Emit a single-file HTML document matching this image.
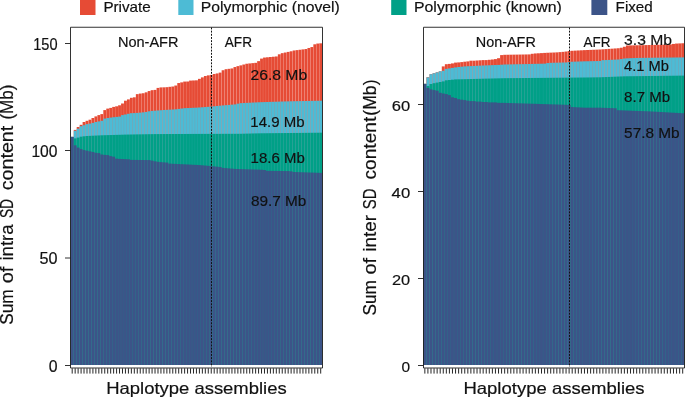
<!DOCTYPE html>
<html lang="en"><head><meta charset="utf-8"><title>SD content per haplotype assembly</title>
<style>
html,body{margin:0;padding:0;background:#fff;}
body{width:685px;height:398px;overflow:hidden;}
svg{display:block;font-family:"Liberation Sans",sans-serif;fill:#111;}
text{stroke:#111;stroke-width:0.18px;}
.ax{stroke:#1c1c1c;stroke-width:0.9;fill:none;}
</style></head><body>
<svg width="685" height="398" viewBox="0 0 685 398">
<rect x="0" y="0" width="685" height="398" fill="#fff" stroke="none"/>
<rect x="80" y="-1" width="15.5" height="16" fill="#E64B35"/>
<rect x="178.3" y="-1" width="15.2" height="16" fill="#4DBBD5"/>
<rect x="391.2" y="-1" width="15.3" height="16" fill="#00A087"/>
<rect x="591.4" y="-1" width="15.9" height="16" fill="#3C5488"/>
<text x="103.4" y="12.4" font-size="14.5" textLength="47.4" lengthAdjust="spacingAndGlyphs" text-anchor="start">Private</text>
<text x="200.8" y="12.4" font-size="14.5" textLength="139.0" lengthAdjust="spacingAndGlyphs" text-anchor="start">Polymorphic (novel)</text>
<text x="414.0" y="12.4" font-size="14.5" textLength="147.9" lengthAdjust="spacingAndGlyphs" text-anchor="start">Polymorphic (known)</text>
<text x="615.6" y="12.4" font-size="14.5" textLength="37.2" lengthAdjust="spacingAndGlyphs" text-anchor="start">Fixed</text>
<g fill="#E64B35">
<rect x="70.78" y="136.90" width="2.84" height="228.10"/>
<rect x="73.74" y="129.90" width="2.84" height="235.10"/>
<rect x="76.70" y="127.00" width="2.84" height="238.00"/>
<rect x="79.66" y="124.80" width="2.84" height="240.20"/>
<rect x="82.61" y="122.00" width="2.84" height="243.00"/>
<rect x="85.57" y="120.80" width="2.84" height="244.20"/>
<rect x="88.53" y="119.70" width="2.84" height="245.30"/>
<rect x="91.49" y="118.00" width="2.84" height="247.00"/>
<rect x="94.45" y="116.40" width="2.84" height="248.60"/>
<rect x="97.41" y="115.10" width="2.84" height="249.90"/>
<rect x="100.36" y="114.10" width="2.84" height="250.90"/>
<rect x="103.32" y="110.10" width="2.84" height="254.90"/>
<rect x="106.28" y="108.60" width="2.84" height="256.40"/>
<rect x="109.24" y="107.90" width="2.84" height="257.10"/>
<rect x="112.20" y="106.90" width="2.84" height="258.10"/>
<rect x="115.16" y="106.30" width="2.84" height="258.70"/>
<rect x="118.11" y="105.30" width="2.84" height="259.70"/>
<rect x="121.07" y="103.50" width="2.84" height="261.50"/>
<rect x="124.03" y="100.70" width="2.84" height="264.30"/>
<rect x="126.99" y="99.40" width="2.84" height="265.60"/>
<rect x="129.95" y="97.80" width="2.84" height="267.20"/>
<rect x="132.91" y="97.30" width="2.84" height="267.70"/>
<rect x="135.86" y="94.14" width="2.84" height="270.86"/>
<rect x="138.82" y="93.58" width="2.84" height="271.42"/>
<rect x="141.78" y="93.24" width="2.84" height="271.76"/>
<rect x="144.74" y="92.33" width="2.84" height="272.67"/>
<rect x="147.70" y="91.06" width="2.84" height="273.94"/>
<rect x="150.66" y="90.18" width="2.84" height="274.82"/>
<rect x="153.61" y="89.90" width="2.84" height="275.10"/>
<rect x="156.57" y="87.91" width="2.84" height="277.09"/>
<rect x="159.53" y="87.41" width="2.84" height="277.59"/>
<rect x="162.49" y="87.34" width="2.84" height="277.66"/>
<rect x="165.45" y="87.18" width="2.84" height="277.82"/>
<rect x="168.41" y="86.82" width="2.84" height="278.18"/>
<rect x="171.36" y="86.52" width="2.84" height="278.48"/>
<rect x="174.32" y="85.53" width="2.84" height="279.47"/>
<rect x="177.28" y="83.06" width="2.84" height="281.94"/>
<rect x="180.24" y="82.38" width="2.84" height="282.62"/>
<rect x="183.20" y="81.58" width="2.84" height="283.42"/>
<rect x="186.16" y="81.51" width="2.84" height="283.49"/>
<rect x="189.11" y="80.58" width="2.84" height="284.42"/>
<rect x="192.07" y="80.45" width="2.84" height="284.55"/>
<rect x="195.03" y="80.32" width="2.84" height="284.68"/>
<rect x="197.99" y="78.85" width="2.84" height="286.15"/>
<rect x="200.95" y="77.37" width="2.84" height="287.63"/>
<rect x="203.91" y="76.02" width="2.84" height="288.98"/>
<rect x="206.86" y="75.36" width="2.84" height="289.64"/>
<rect x="209.82" y="74.90" width="2.84" height="290.10"/>
<rect x="212.78" y="73.98" width="2.84" height="291.02"/>
<rect x="215.74" y="73.45" width="2.84" height="291.55"/>
<rect x="218.70" y="72.61" width="2.84" height="292.39"/>
<rect x="221.66" y="70.24" width="2.84" height="294.76"/>
<rect x="224.61" y="69.20" width="2.84" height="295.80"/>
<rect x="227.57" y="68.82" width="2.84" height="296.18"/>
<rect x="230.53" y="68.44" width="2.84" height="296.56"/>
<rect x="233.49" y="67.06" width="2.84" height="297.94"/>
<rect x="236.45" y="66.14" width="2.84" height="298.86"/>
<rect x="239.41" y="65.37" width="2.84" height="299.63"/>
<rect x="242.36" y="64.52" width="2.84" height="300.48"/>
<rect x="245.32" y="63.73" width="2.84" height="301.27"/>
<rect x="248.28" y="63.43" width="2.84" height="301.57"/>
<rect x="251.24" y="63.13" width="2.84" height="301.87"/>
<rect x="254.20" y="62.84" width="2.84" height="302.16"/>
<rect x="257.16" y="61.14" width="2.84" height="303.87"/>
<rect x="260.11" y="58.59" width="2.84" height="306.41"/>
<rect x="263.07" y="57.55" width="2.84" height="307.45"/>
<rect x="266.03" y="57.28" width="2.84" height="307.72"/>
<rect x="268.99" y="57.01" width="2.84" height="307.99"/>
<rect x="271.95" y="56.74" width="2.84" height="308.26"/>
<rect x="274.91" y="56.46" width="2.84" height="308.54"/>
<rect x="277.86" y="54.30" width="2.84" height="310.70"/>
<rect x="280.82" y="53.15" width="2.84" height="311.85"/>
<rect x="283.78" y="52.53" width="2.84" height="312.47"/>
<rect x="286.74" y="51.91" width="2.84" height="313.09"/>
<rect x="289.70" y="51.29" width="2.84" height="313.71"/>
<rect x="292.66" y="50.49" width="2.84" height="314.51"/>
<rect x="295.61" y="50.13" width="2.84" height="314.87"/>
<rect x="298.57" y="49.76" width="2.84" height="315.24"/>
<rect x="301.53" y="49.40" width="2.84" height="315.60"/>
<rect x="304.49" y="49.03" width="2.84" height="315.97"/>
<rect x="307.45" y="47.97" width="2.84" height="317.03"/>
<rect x="310.41" y="47.05" width="2.84" height="317.95"/>
<rect x="313.36" y="44.31" width="2.84" height="320.69"/>
<rect x="316.32" y="43.55" width="2.84" height="321.45"/>
<rect x="319.28" y="43.32" width="2.84" height="321.68"/>
</g>
<g fill="#4DBBD5">
<rect x="70.78" y="136.90" width="2.84" height="228.10"/>
<rect x="73.74" y="130.80" width="2.84" height="234.20"/>
<rect x="76.70" y="128.70" width="2.84" height="236.30"/>
<rect x="79.66" y="126.20" width="2.84" height="238.80"/>
<rect x="82.61" y="125.20" width="2.84" height="239.80"/>
<rect x="85.57" y="124.10" width="2.84" height="240.90"/>
<rect x="88.53" y="123.60" width="2.84" height="241.40"/>
<rect x="91.49" y="122.90" width="2.84" height="242.10"/>
<rect x="94.45" y="122.00" width="2.84" height="243.00"/>
<rect x="97.41" y="121.40" width="2.84" height="243.60"/>
<rect x="100.36" y="120.80" width="2.84" height="244.20"/>
<rect x="103.32" y="118.60" width="2.84" height="246.40"/>
<rect x="106.28" y="118.00" width="2.84" height="247.00"/>
<rect x="109.24" y="117.60" width="2.84" height="247.40"/>
<rect x="112.20" y="117.20" width="2.84" height="247.80"/>
<rect x="115.16" y="116.90" width="2.84" height="248.10"/>
<rect x="118.11" y="116.60" width="2.84" height="248.40"/>
<rect x="121.07" y="115.10" width="2.84" height="249.90"/>
<rect x="124.03" y="114.50" width="2.84" height="250.50"/>
<rect x="126.99" y="113.80" width="2.84" height="251.20"/>
<rect x="129.95" y="113.20" width="2.84" height="251.80"/>
<rect x="132.91" y="113.07" width="2.84" height="251.93"/>
<rect x="135.86" y="112.89" width="2.84" height="252.11"/>
<rect x="138.82" y="112.62" width="2.84" height="252.38"/>
<rect x="141.78" y="112.36" width="2.84" height="252.64"/>
<rect x="144.74" y="111.95" width="2.84" height="253.05"/>
<rect x="147.70" y="111.29" width="2.84" height="253.71"/>
<rect x="150.66" y="110.93" width="2.84" height="254.07"/>
<rect x="153.61" y="110.70" width="2.84" height="254.30"/>
<rect x="156.57" y="110.46" width="2.84" height="254.54"/>
<rect x="159.53" y="110.22" width="2.84" height="254.78"/>
<rect x="162.49" y="110.02" width="2.84" height="254.98"/>
<rect x="165.45" y="109.86" width="2.84" height="255.14"/>
<rect x="168.41" y="109.69" width="2.84" height="255.31"/>
<rect x="171.36" y="109.52" width="2.84" height="255.48"/>
<rect x="174.32" y="109.30" width="2.84" height="255.70"/>
<rect x="177.28" y="108.91" width="2.84" height="256.09"/>
<rect x="180.24" y="108.51" width="2.84" height="256.49"/>
<rect x="183.20" y="108.17" width="2.84" height="256.83"/>
<rect x="186.16" y="108.05" width="2.84" height="256.95"/>
<rect x="189.11" y="107.92" width="2.84" height="257.08"/>
<rect x="192.07" y="107.79" width="2.84" height="257.21"/>
<rect x="195.03" y="107.67" width="2.84" height="257.33"/>
<rect x="197.99" y="107.49" width="2.84" height="257.51"/>
<rect x="200.95" y="107.27" width="2.84" height="257.73"/>
<rect x="203.91" y="107.05" width="2.84" height="257.95"/>
<rect x="206.86" y="106.83" width="2.84" height="258.17"/>
<rect x="209.82" y="106.58" width="2.84" height="258.42"/>
<rect x="212.78" y="106.28" width="2.84" height="258.72"/>
<rect x="215.74" y="105.98" width="2.84" height="259.02"/>
<rect x="218.70" y="105.69" width="2.84" height="259.31"/>
<rect x="221.66" y="105.43" width="2.84" height="259.57"/>
<rect x="224.61" y="105.18" width="2.84" height="259.82"/>
<rect x="227.57" y="104.92" width="2.84" height="260.08"/>
<rect x="230.53" y="104.66" width="2.84" height="260.34"/>
<rect x="233.49" y="104.41" width="2.84" height="260.59"/>
<rect x="236.45" y="103.71" width="2.84" height="261.29"/>
<rect x="239.41" y="103.16" width="2.84" height="261.84"/>
<rect x="242.36" y="103.01" width="2.84" height="261.99"/>
<rect x="245.32" y="102.86" width="2.84" height="262.14"/>
<rect x="248.28" y="102.72" width="2.84" height="262.28"/>
<rect x="251.24" y="102.57" width="2.84" height="262.43"/>
<rect x="254.20" y="102.42" width="2.84" height="262.58"/>
<rect x="257.16" y="102.27" width="2.84" height="262.73"/>
<rect x="260.11" y="102.15" width="2.84" height="262.85"/>
<rect x="263.07" y="102.07" width="2.84" height="262.93"/>
<rect x="266.03" y="101.98" width="2.84" height="263.02"/>
<rect x="268.99" y="101.89" width="2.84" height="263.11"/>
<rect x="271.95" y="101.80" width="2.84" height="263.20"/>
<rect x="274.91" y="101.71" width="2.84" height="263.29"/>
<rect x="277.86" y="101.62" width="2.84" height="263.38"/>
<rect x="280.82" y="101.53" width="2.84" height="263.47"/>
<rect x="283.78" y="101.44" width="2.84" height="263.56"/>
<rect x="286.74" y="101.36" width="2.84" height="263.64"/>
<rect x="289.70" y="101.28" width="2.84" height="263.72"/>
<rect x="292.66" y="101.22" width="2.84" height="263.78"/>
<rect x="295.61" y="101.16" width="2.84" height="263.84"/>
<rect x="298.57" y="101.11" width="2.84" height="263.89"/>
<rect x="301.53" y="101.05" width="2.84" height="263.95"/>
<rect x="304.49" y="100.99" width="2.84" height="264.01"/>
<rect x="307.45" y="100.93" width="2.84" height="264.07"/>
<rect x="310.41" y="100.88" width="2.84" height="264.12"/>
<rect x="313.36" y="100.82" width="2.84" height="264.18"/>
<rect x="316.32" y="100.76" width="2.84" height="264.24"/>
<rect x="319.28" y="100.71" width="2.84" height="264.29"/>
</g>
<g fill="#00A087">
<rect x="70.78" y="136.90" width="2.84" height="228.10"/>
<rect x="73.74" y="138.40" width="2.84" height="226.60"/>
<rect x="76.70" y="137.60" width="2.84" height="227.40"/>
<rect x="79.66" y="136.70" width="2.84" height="228.30"/>
<rect x="82.61" y="136.30" width="2.84" height="228.70"/>
<rect x="85.57" y="136.00" width="2.84" height="229.00"/>
<rect x="88.53" y="135.86" width="2.84" height="229.14"/>
<rect x="91.49" y="135.72" width="2.84" height="229.28"/>
<rect x="94.45" y="135.58" width="2.84" height="229.42"/>
<rect x="97.41" y="135.44" width="2.84" height="229.56"/>
<rect x="100.36" y="135.30" width="2.84" height="229.70"/>
<rect x="103.32" y="135.21" width="2.84" height="229.79"/>
<rect x="106.28" y="135.12" width="2.84" height="229.88"/>
<rect x="109.24" y="135.04" width="2.84" height="229.96"/>
<rect x="112.20" y="134.95" width="2.84" height="230.05"/>
<rect x="115.16" y="134.86" width="2.84" height="230.14"/>
<rect x="118.11" y="134.78" width="2.84" height="230.22"/>
<rect x="121.07" y="134.69" width="2.84" height="230.31"/>
<rect x="124.03" y="134.60" width="2.84" height="230.40"/>
<rect x="126.99" y="134.55" width="2.84" height="230.45"/>
<rect x="129.95" y="134.50" width="2.84" height="230.50"/>
<rect x="132.91" y="134.45" width="2.84" height="230.55"/>
<rect x="135.86" y="134.40" width="2.84" height="230.60"/>
<rect x="138.82" y="134.35" width="2.84" height="230.65"/>
<rect x="141.78" y="134.30" width="2.84" height="230.70"/>
<rect x="144.74" y="134.25" width="2.84" height="230.75"/>
<rect x="147.70" y="134.20" width="2.84" height="230.80"/>
<rect x="150.66" y="134.15" width="2.84" height="230.85"/>
<rect x="153.61" y="134.10" width="2.84" height="230.90"/>
<rect x="156.57" y="134.09" width="2.84" height="230.91"/>
<rect x="159.53" y="134.07" width="2.84" height="230.93"/>
<rect x="162.49" y="134.06" width="2.84" height="230.94"/>
<rect x="165.45" y="134.05" width="2.84" height="230.95"/>
<rect x="168.41" y="134.03" width="2.84" height="230.97"/>
<rect x="171.36" y="134.02" width="2.84" height="230.98"/>
<rect x="174.32" y="134.01" width="2.84" height="230.99"/>
<rect x="177.28" y="133.99" width="2.84" height="231.01"/>
<rect x="180.24" y="133.98" width="2.84" height="231.02"/>
<rect x="183.20" y="133.97" width="2.84" height="231.03"/>
<rect x="186.16" y="133.96" width="2.84" height="231.04"/>
<rect x="189.11" y="133.94" width="2.84" height="231.06"/>
<rect x="192.07" y="133.93" width="2.84" height="231.07"/>
<rect x="195.03" y="133.92" width="2.84" height="231.08"/>
<rect x="197.99" y="133.90" width="2.84" height="231.10"/>
<rect x="200.95" y="133.89" width="2.84" height="231.11"/>
<rect x="203.91" y="133.89" width="2.84" height="231.11"/>
<rect x="206.86" y="133.88" width="2.84" height="231.12"/>
<rect x="209.82" y="133.87" width="2.84" height="231.13"/>
<rect x="212.78" y="133.86" width="2.84" height="231.14"/>
<rect x="215.74" y="133.86" width="2.84" height="231.14"/>
<rect x="218.70" y="133.85" width="2.84" height="231.15"/>
<rect x="221.66" y="133.84" width="2.84" height="231.16"/>
<rect x="224.61" y="133.83" width="2.84" height="231.17"/>
<rect x="227.57" y="133.83" width="2.84" height="231.17"/>
<rect x="230.53" y="133.82" width="2.84" height="231.18"/>
<rect x="233.49" y="133.81" width="2.84" height="231.19"/>
<rect x="236.45" y="133.81" width="2.84" height="231.19"/>
<rect x="239.41" y="133.78" width="2.84" height="231.22"/>
<rect x="242.36" y="133.71" width="2.84" height="231.29"/>
<rect x="245.32" y="133.63" width="2.84" height="231.37"/>
<rect x="248.28" y="133.56" width="2.84" height="231.44"/>
<rect x="251.24" y="133.48" width="2.84" height="231.52"/>
<rect x="254.20" y="133.41" width="2.84" height="231.59"/>
<rect x="257.16" y="133.34" width="2.84" height="231.66"/>
<rect x="260.11" y="133.28" width="2.84" height="231.72"/>
<rect x="263.07" y="133.26" width="2.84" height="231.74"/>
<rect x="266.03" y="133.23" width="2.84" height="231.77"/>
<rect x="268.99" y="133.20" width="2.84" height="231.80"/>
<rect x="271.95" y="133.17" width="2.84" height="231.83"/>
<rect x="274.91" y="133.14" width="2.84" height="231.86"/>
<rect x="277.86" y="133.11" width="2.84" height="231.89"/>
<rect x="280.82" y="133.08" width="2.84" height="231.92"/>
<rect x="283.78" y="133.05" width="2.84" height="231.95"/>
<rect x="286.74" y="133.02" width="2.84" height="231.98"/>
<rect x="289.70" y="132.99" width="2.84" height="232.01"/>
<rect x="292.66" y="132.96" width="2.84" height="232.04"/>
<rect x="295.61" y="132.94" width="2.84" height="232.06"/>
<rect x="298.57" y="132.91" width="2.84" height="232.09"/>
<rect x="301.53" y="132.88" width="2.84" height="232.12"/>
<rect x="304.49" y="132.85" width="2.84" height="232.15"/>
<rect x="307.45" y="132.82" width="2.84" height="232.18"/>
<rect x="310.41" y="132.79" width="2.84" height="232.21"/>
<rect x="313.36" y="132.76" width="2.84" height="232.24"/>
<rect x="316.32" y="132.73" width="2.84" height="232.27"/>
<rect x="319.28" y="132.70" width="2.84" height="232.30"/>
</g>
<g fill="#3C5488">
<rect x="70.78" y="136.90" width="2.84" height="228.10"/>
<rect x="73.74" y="145.30" width="2.84" height="219.70"/>
<rect x="76.70" y="147.60" width="2.84" height="217.40"/>
<rect x="79.66" y="149.10" width="2.84" height="215.90"/>
<rect x="82.61" y="150.10" width="2.84" height="214.90"/>
<rect x="85.57" y="150.70" width="2.84" height="214.30"/>
<rect x="88.53" y="151.30" width="2.84" height="213.70"/>
<rect x="91.49" y="152.00" width="2.84" height="213.00"/>
<rect x="94.45" y="152.80" width="2.84" height="212.20"/>
<rect x="97.41" y="153.10" width="2.84" height="211.90"/>
<rect x="100.36" y="154.50" width="2.84" height="210.50"/>
<rect x="103.32" y="154.90" width="2.84" height="210.10"/>
<rect x="106.28" y="155.10" width="2.84" height="209.90"/>
<rect x="109.24" y="156.10" width="2.84" height="208.90"/>
<rect x="112.20" y="156.70" width="2.84" height="208.30"/>
<rect x="115.16" y="158.60" width="2.84" height="206.40"/>
<rect x="118.11" y="158.90" width="2.84" height="206.10"/>
<rect x="121.07" y="159.03" width="2.84" height="205.97"/>
<rect x="124.03" y="159.17" width="2.84" height="205.83"/>
<rect x="126.99" y="159.30" width="2.84" height="205.70"/>
<rect x="129.95" y="159.90" width="2.84" height="205.10"/>
<rect x="132.91" y="159.93" width="2.84" height="205.07"/>
<rect x="135.86" y="159.96" width="2.84" height="205.04"/>
<rect x="138.82" y="160.00" width="2.84" height="205.00"/>
<rect x="141.78" y="160.03" width="2.84" height="204.97"/>
<rect x="144.74" y="160.06" width="2.84" height="204.94"/>
<rect x="147.70" y="160.09" width="2.84" height="204.91"/>
<rect x="150.66" y="160.62" width="2.84" height="204.38"/>
<rect x="153.61" y="161.29" width="2.84" height="203.71"/>
<rect x="156.57" y="161.82" width="2.84" height="203.18"/>
<rect x="159.53" y="162.15" width="2.84" height="202.85"/>
<rect x="162.49" y="162.37" width="2.84" height="202.63"/>
<rect x="165.45" y="162.59" width="2.84" height="202.41"/>
<rect x="168.41" y="163.64" width="2.84" height="201.36"/>
<rect x="171.36" y="163.78" width="2.84" height="201.22"/>
<rect x="174.32" y="163.92" width="2.84" height="201.08"/>
<rect x="177.28" y="164.06" width="2.84" height="200.94"/>
<rect x="180.24" y="164.20" width="2.84" height="200.80"/>
<rect x="183.20" y="164.34" width="2.84" height="200.66"/>
<rect x="186.16" y="164.48" width="2.84" height="200.52"/>
<rect x="189.11" y="164.63" width="2.84" height="200.37"/>
<rect x="192.07" y="164.77" width="2.84" height="200.23"/>
<rect x="195.03" y="164.92" width="2.84" height="200.08"/>
<rect x="197.99" y="165.07" width="2.84" height="199.93"/>
<rect x="200.95" y="165.31" width="2.84" height="199.69"/>
<rect x="203.91" y="165.58" width="2.84" height="199.42"/>
<rect x="206.86" y="165.85" width="2.84" height="199.15"/>
<rect x="209.82" y="166.12" width="2.84" height="198.88"/>
<rect x="212.78" y="166.42" width="2.84" height="198.58"/>
<rect x="215.74" y="166.72" width="2.84" height="198.28"/>
<rect x="218.70" y="167.03" width="2.84" height="197.97"/>
<rect x="221.66" y="167.91" width="2.84" height="197.09"/>
<rect x="224.61" y="168.15" width="2.84" height="196.85"/>
<rect x="227.57" y="168.40" width="2.84" height="196.60"/>
<rect x="230.53" y="168.65" width="2.84" height="196.35"/>
<rect x="233.49" y="168.89" width="2.84" height="196.11"/>
<rect x="236.45" y="169.01" width="2.84" height="195.99"/>
<rect x="239.41" y="169.12" width="2.84" height="195.88"/>
<rect x="242.36" y="169.21" width="2.84" height="195.79"/>
<rect x="245.32" y="169.30" width="2.84" height="195.70"/>
<rect x="248.28" y="169.38" width="2.84" height="195.62"/>
<rect x="251.24" y="169.47" width="2.84" height="195.53"/>
<rect x="254.20" y="169.56" width="2.84" height="195.44"/>
<rect x="257.16" y="169.64" width="2.84" height="195.36"/>
<rect x="260.11" y="169.73" width="2.84" height="195.27"/>
<rect x="263.07" y="170.00" width="2.84" height="195.00"/>
<rect x="266.03" y="170.81" width="2.84" height="194.19"/>
<rect x="268.99" y="170.85" width="2.84" height="194.15"/>
<rect x="271.95" y="170.89" width="2.84" height="194.11"/>
<rect x="274.91" y="170.93" width="2.84" height="194.07"/>
<rect x="277.86" y="170.96" width="2.84" height="194.04"/>
<rect x="280.82" y="171.00" width="2.84" height="194.00"/>
<rect x="283.78" y="171.04" width="2.84" height="193.96"/>
<rect x="286.74" y="171.08" width="2.84" height="193.92"/>
<rect x="289.70" y="171.35" width="2.84" height="193.65"/>
<rect x="292.66" y="172.00" width="2.84" height="193.00"/>
<rect x="295.61" y="172.10" width="2.84" height="192.90"/>
<rect x="298.57" y="172.20" width="2.84" height="192.80"/>
<rect x="301.53" y="172.30" width="2.84" height="192.70"/>
<rect x="304.49" y="172.40" width="2.84" height="192.60"/>
<rect x="307.45" y="172.50" width="2.84" height="192.50"/>
<rect x="310.41" y="172.59" width="2.84" height="192.41"/>
<rect x="313.36" y="172.69" width="2.84" height="192.31"/>
<rect x="316.32" y="172.79" width="2.84" height="192.21"/>
<rect x="319.28" y="172.89" width="2.84" height="192.11"/>
</g>
<g fill="#E64B35">
<rect x="423.38" y="83.90" width="2.95" height="281.10"/>
<rect x="426.44" y="77.20" width="2.95" height="287.80"/>
<rect x="429.51" y="74.10" width="2.95" height="290.90"/>
<rect x="432.58" y="73.20" width="2.95" height="291.80"/>
<rect x="435.65" y="72.30" width="2.95" height="292.70"/>
<rect x="438.72" y="71.30" width="2.95" height="293.70"/>
<rect x="441.79" y="66.40" width="2.95" height="298.60"/>
<rect x="444.86" y="64.20" width="2.95" height="300.80"/>
<rect x="447.93" y="63.90" width="2.95" height="301.10"/>
<rect x="451.00" y="63.40" width="2.95" height="301.60"/>
<rect x="454.07" y="62.60" width="2.95" height="302.40"/>
<rect x="457.14" y="62.40" width="2.95" height="302.60"/>
<rect x="460.21" y="62.10" width="2.95" height="302.90"/>
<rect x="463.28" y="61.70" width="2.95" height="303.30"/>
<rect x="466.35" y="61.40" width="2.95" height="303.60"/>
<rect x="469.42" y="60.70" width="2.95" height="304.30"/>
<rect x="472.49" y="60.70" width="2.95" height="304.30"/>
<rect x="475.56" y="60.50" width="2.95" height="304.50"/>
<rect x="478.63" y="60.30" width="2.95" height="304.70"/>
<rect x="481.70" y="60.10" width="2.95" height="304.90"/>
<rect x="484.77" y="60.10" width="2.95" height="304.90"/>
<rect x="487.84" y="59.80" width="2.95" height="305.20"/>
<rect x="490.91" y="59.50" width="2.95" height="305.50"/>
<rect x="493.98" y="59.10" width="2.95" height="305.90"/>
<rect x="497.05" y="58.20" width="2.95" height="306.80"/>
<rect x="500.12" y="55.10" width="2.95" height="309.90"/>
<rect x="503.19" y="54.80" width="2.95" height="310.20"/>
<rect x="506.26" y="54.75" width="2.95" height="310.25"/>
<rect x="509.33" y="54.70" width="2.95" height="310.30"/>
<rect x="512.39" y="54.65" width="2.95" height="310.35"/>
<rect x="515.46" y="54.61" width="2.95" height="310.39"/>
<rect x="518.53" y="54.56" width="2.95" height="310.44"/>
<rect x="521.60" y="54.51" width="2.95" height="310.49"/>
<rect x="524.67" y="54.46" width="2.95" height="310.54"/>
<rect x="527.74" y="54.41" width="2.95" height="310.59"/>
<rect x="530.81" y="53.79" width="2.95" height="311.21"/>
<rect x="533.88" y="53.46" width="2.95" height="311.54"/>
<rect x="536.95" y="53.28" width="2.95" height="311.72"/>
<rect x="540.02" y="53.10" width="2.95" height="311.90"/>
<rect x="543.09" y="52.91" width="2.95" height="312.09"/>
<rect x="546.16" y="52.75" width="2.95" height="312.25"/>
<rect x="549.23" y="52.63" width="2.95" height="312.37"/>
<rect x="552.30" y="52.51" width="2.95" height="312.49"/>
<rect x="555.37" y="52.37" width="2.95" height="312.63"/>
<rect x="558.44" y="52.12" width="2.95" height="312.88"/>
<rect x="561.51" y="51.87" width="2.95" height="313.13"/>
<rect x="564.58" y="51.53" width="2.95" height="313.47"/>
<rect x="567.65" y="51.04" width="2.95" height="313.96"/>
<rect x="570.72" y="50.78" width="2.95" height="314.22"/>
<rect x="573.79" y="50.62" width="2.95" height="314.38"/>
<rect x="576.86" y="50.46" width="2.95" height="314.54"/>
<rect x="579.93" y="50.29" width="2.95" height="314.71"/>
<rect x="583.00" y="50.13" width="2.95" height="314.87"/>
<rect x="586.07" y="50.00" width="2.95" height="315.00"/>
<rect x="589.14" y="49.88" width="2.95" height="315.12"/>
<rect x="592.21" y="49.75" width="2.95" height="315.25"/>
<rect x="595.28" y="49.63" width="2.95" height="315.37"/>
<rect x="598.34" y="49.51" width="2.95" height="315.49"/>
<rect x="601.41" y="49.30" width="2.95" height="315.70"/>
<rect x="604.48" y="49.09" width="2.95" height="315.91"/>
<rect x="607.55" y="48.88" width="2.95" height="316.12"/>
<rect x="610.62" y="48.67" width="2.95" height="316.33"/>
<rect x="613.69" y="48.46" width="2.95" height="316.54"/>
<rect x="616.76" y="48.25" width="2.95" height="316.75"/>
<rect x="619.83" y="47.74" width="2.95" height="317.26"/>
<rect x="622.90" y="46.77" width="2.95" height="318.23"/>
<rect x="625.97" y="45.48" width="2.95" height="319.52"/>
<rect x="629.04" y="45.41" width="2.95" height="319.59"/>
<rect x="632.11" y="45.35" width="2.95" height="319.65"/>
<rect x="635.18" y="45.28" width="2.95" height="319.72"/>
<rect x="638.25" y="45.22" width="2.95" height="319.78"/>
<rect x="641.32" y="45.15" width="2.95" height="319.85"/>
<rect x="644.39" y="45.09" width="2.95" height="319.91"/>
<rect x="647.46" y="45.02" width="2.95" height="319.98"/>
<rect x="650.53" y="44.95" width="2.95" height="320.05"/>
<rect x="653.60" y="44.87" width="2.95" height="320.13"/>
<rect x="656.67" y="44.80" width="2.95" height="320.20"/>
<rect x="659.74" y="44.72" width="2.95" height="320.28"/>
<rect x="662.81" y="44.64" width="2.95" height="320.36"/>
<rect x="665.88" y="44.57" width="2.95" height="320.43"/>
<rect x="668.95" y="44.43" width="2.95" height="320.57"/>
<rect x="672.02" y="43.93" width="2.95" height="321.07"/>
<rect x="675.09" y="43.55" width="2.95" height="321.45"/>
<rect x="678.16" y="43.41" width="2.95" height="321.59"/>
<rect x="681.23" y="43.26" width="2.95" height="321.74"/>
</g>
<g fill="#4DBBD5">
<rect x="423.38" y="83.90" width="2.95" height="281.10"/>
<rect x="426.44" y="77.40" width="2.95" height="287.60"/>
<rect x="429.51" y="74.20" width="2.95" height="290.80"/>
<rect x="432.58" y="73.30" width="2.95" height="291.70"/>
<rect x="435.65" y="72.40" width="2.95" height="292.60"/>
<rect x="438.72" y="71.40" width="2.95" height="293.60"/>
<rect x="441.79" y="70.80" width="2.95" height="294.20"/>
<rect x="444.86" y="68.90" width="2.95" height="296.10"/>
<rect x="447.93" y="68.40" width="2.95" height="296.60"/>
<rect x="451.00" y="67.90" width="2.95" height="297.10"/>
<rect x="454.07" y="67.40" width="2.95" height="297.60"/>
<rect x="457.14" y="67.00" width="2.95" height="298.00"/>
<rect x="460.21" y="66.70" width="2.95" height="298.30"/>
<rect x="463.28" y="66.40" width="2.95" height="298.60"/>
<rect x="466.35" y="66.25" width="2.95" height="298.75"/>
<rect x="469.42" y="66.10" width="2.95" height="298.90"/>
<rect x="472.49" y="65.95" width="2.95" height="299.05"/>
<rect x="475.56" y="65.80" width="2.95" height="299.20"/>
<rect x="478.63" y="65.65" width="2.95" height="299.35"/>
<rect x="481.70" y="65.50" width="2.95" height="299.50"/>
<rect x="484.77" y="65.38" width="2.95" height="299.62"/>
<rect x="487.84" y="65.26" width="2.95" height="299.74"/>
<rect x="490.91" y="65.14" width="2.95" height="299.86"/>
<rect x="493.98" y="65.02" width="2.95" height="299.98"/>
<rect x="497.05" y="64.90" width="2.95" height="300.10"/>
<rect x="500.12" y="64.70" width="2.95" height="300.30"/>
<rect x="503.19" y="64.50" width="2.95" height="300.50"/>
<rect x="506.26" y="64.44" width="2.95" height="300.56"/>
<rect x="509.33" y="64.38" width="2.95" height="300.62"/>
<rect x="512.39" y="64.32" width="2.95" height="300.68"/>
<rect x="515.46" y="64.26" width="2.95" height="300.74"/>
<rect x="518.53" y="64.20" width="2.95" height="300.80"/>
<rect x="521.60" y="64.14" width="2.95" height="300.86"/>
<rect x="524.67" y="64.07" width="2.95" height="300.93"/>
<rect x="527.74" y="64.00" width="2.95" height="301.00"/>
<rect x="530.81" y="63.93" width="2.95" height="301.07"/>
<rect x="533.88" y="63.86" width="2.95" height="301.14"/>
<rect x="536.95" y="63.79" width="2.95" height="301.21"/>
<rect x="540.02" y="63.72" width="2.95" height="301.28"/>
<rect x="543.09" y="63.64" width="2.95" height="301.36"/>
<rect x="546.16" y="63.07" width="2.95" height="301.93"/>
<rect x="549.23" y="62.83" width="2.95" height="302.17"/>
<rect x="552.30" y="62.76" width="2.95" height="302.24"/>
<rect x="555.37" y="62.68" width="2.95" height="302.32"/>
<rect x="558.44" y="62.60" width="2.95" height="302.40"/>
<rect x="561.51" y="62.53" width="2.95" height="302.47"/>
<rect x="564.58" y="62.45" width="2.95" height="302.55"/>
<rect x="567.65" y="62.13" width="2.95" height="302.87"/>
<rect x="570.72" y="61.74" width="2.95" height="303.26"/>
<rect x="573.79" y="61.64" width="2.95" height="303.36"/>
<rect x="576.86" y="61.53" width="2.95" height="303.47"/>
<rect x="579.93" y="61.42" width="2.95" height="303.58"/>
<rect x="583.00" y="61.32" width="2.95" height="303.68"/>
<rect x="586.07" y="61.25" width="2.95" height="303.75"/>
<rect x="589.14" y="61.19" width="2.95" height="303.81"/>
<rect x="592.21" y="61.13" width="2.95" height="303.87"/>
<rect x="595.28" y="61.06" width="2.95" height="303.94"/>
<rect x="598.34" y="61.00" width="2.95" height="304.00"/>
<rect x="601.41" y="60.18" width="2.95" height="304.82"/>
<rect x="604.48" y="60.05" width="2.95" height="304.95"/>
<rect x="607.55" y="59.92" width="2.95" height="305.08"/>
<rect x="610.62" y="59.79" width="2.95" height="305.21"/>
<rect x="613.69" y="59.66" width="2.95" height="305.34"/>
<rect x="616.76" y="59.53" width="2.95" height="305.47"/>
<rect x="619.83" y="59.08" width="2.95" height="305.92"/>
<rect x="622.90" y="58.51" width="2.95" height="306.49"/>
<rect x="625.97" y="58.31" width="2.95" height="306.69"/>
<rect x="629.04" y="58.19" width="2.95" height="306.81"/>
<rect x="632.11" y="58.07" width="2.95" height="306.93"/>
<rect x="635.18" y="57.95" width="2.95" height="307.05"/>
<rect x="638.25" y="57.88" width="2.95" height="307.12"/>
<rect x="641.32" y="57.85" width="2.95" height="307.15"/>
<rect x="644.39" y="57.81" width="2.95" height="307.19"/>
<rect x="647.46" y="57.78" width="2.95" height="307.22"/>
<rect x="650.53" y="57.75" width="2.95" height="307.25"/>
<rect x="653.60" y="57.71" width="2.95" height="307.29"/>
<rect x="656.67" y="57.68" width="2.95" height="307.32"/>
<rect x="659.74" y="57.65" width="2.95" height="307.35"/>
<rect x="662.81" y="57.61" width="2.95" height="307.39"/>
<rect x="665.88" y="57.58" width="2.95" height="307.42"/>
<rect x="668.95" y="57.55" width="2.95" height="307.45"/>
<rect x="672.02" y="57.51" width="2.95" height="307.49"/>
<rect x="675.09" y="57.48" width="2.95" height="307.52"/>
<rect x="678.16" y="57.45" width="2.95" height="307.55"/>
<rect x="681.23" y="57.41" width="2.95" height="307.59"/>
</g>
<g fill="#00A087">
<rect x="423.38" y="83.90" width="2.95" height="281.10"/>
<rect x="426.44" y="86.00" width="2.95" height="279.00"/>
<rect x="429.51" y="84.00" width="2.95" height="281.00"/>
<rect x="432.58" y="83.20" width="2.95" height="281.80"/>
<rect x="435.65" y="82.60" width="2.95" height="282.40"/>
<rect x="438.72" y="82.00" width="2.95" height="283.00"/>
<rect x="441.79" y="81.40" width="2.95" height="283.60"/>
<rect x="444.86" y="80.30" width="2.95" height="284.70"/>
<rect x="447.93" y="80.00" width="2.95" height="285.00"/>
<rect x="451.00" y="79.70" width="2.95" height="285.30"/>
<rect x="454.07" y="79.40" width="2.95" height="285.60"/>
<rect x="457.14" y="79.33" width="2.95" height="285.67"/>
<rect x="460.21" y="79.27" width="2.95" height="285.73"/>
<rect x="463.28" y="79.20" width="2.95" height="285.80"/>
<rect x="466.35" y="79.12" width="2.95" height="285.88"/>
<rect x="469.42" y="79.03" width="2.95" height="285.97"/>
<rect x="472.49" y="78.95" width="2.95" height="286.05"/>
<rect x="475.56" y="78.87" width="2.95" height="286.13"/>
<rect x="478.63" y="78.78" width="2.95" height="286.22"/>
<rect x="481.70" y="78.70" width="2.95" height="286.30"/>
<rect x="484.77" y="78.63" width="2.95" height="286.37"/>
<rect x="487.84" y="78.56" width="2.95" height="286.44"/>
<rect x="490.91" y="78.49" width="2.95" height="286.51"/>
<rect x="493.98" y="78.41" width="2.95" height="286.59"/>
<rect x="497.05" y="78.34" width="2.95" height="286.66"/>
<rect x="500.12" y="78.27" width="2.95" height="286.73"/>
<rect x="503.19" y="78.20" width="2.95" height="286.80"/>
<rect x="506.26" y="78.17" width="2.95" height="286.83"/>
<rect x="509.33" y="78.15" width="2.95" height="286.85"/>
<rect x="512.39" y="78.12" width="2.95" height="286.88"/>
<rect x="515.46" y="78.09" width="2.95" height="286.91"/>
<rect x="518.53" y="78.07" width="2.95" height="286.93"/>
<rect x="521.60" y="78.04" width="2.95" height="286.96"/>
<rect x="524.67" y="78.01" width="2.95" height="286.99"/>
<rect x="527.74" y="77.99" width="2.95" height="287.01"/>
<rect x="530.81" y="77.96" width="2.95" height="287.04"/>
<rect x="533.88" y="77.93" width="2.95" height="287.07"/>
<rect x="536.95" y="77.91" width="2.95" height="287.09"/>
<rect x="540.02" y="77.88" width="2.95" height="287.12"/>
<rect x="543.09" y="77.85" width="2.95" height="287.15"/>
<rect x="546.16" y="77.83" width="2.95" height="287.17"/>
<rect x="549.23" y="77.80" width="2.95" height="287.20"/>
<rect x="552.30" y="77.77" width="2.95" height="287.23"/>
<rect x="555.37" y="77.75" width="2.95" height="287.25"/>
<rect x="558.44" y="77.72" width="2.95" height="287.28"/>
<rect x="561.51" y="77.69" width="2.95" height="287.31"/>
<rect x="564.58" y="77.67" width="2.95" height="287.33"/>
<rect x="567.65" y="77.64" width="2.95" height="287.36"/>
<rect x="570.72" y="77.61" width="2.95" height="287.39"/>
<rect x="573.79" y="77.58" width="2.95" height="287.42"/>
<rect x="576.86" y="77.56" width="2.95" height="287.44"/>
<rect x="579.93" y="77.53" width="2.95" height="287.47"/>
<rect x="583.00" y="77.50" width="2.95" height="287.50"/>
<rect x="586.07" y="77.47" width="2.95" height="287.53"/>
<rect x="589.14" y="77.43" width="2.95" height="287.57"/>
<rect x="592.21" y="77.38" width="2.95" height="287.62"/>
<rect x="595.28" y="77.34" width="2.95" height="287.66"/>
<rect x="598.34" y="77.30" width="2.95" height="287.70"/>
<rect x="601.41" y="77.18" width="2.95" height="287.82"/>
<rect x="604.48" y="77.06" width="2.95" height="287.94"/>
<rect x="607.55" y="76.94" width="2.95" height="288.06"/>
<rect x="610.62" y="76.82" width="2.95" height="288.18"/>
<rect x="613.69" y="76.69" width="2.95" height="288.31"/>
<rect x="616.76" y="76.57" width="2.95" height="288.43"/>
<rect x="619.83" y="76.45" width="2.95" height="288.55"/>
<rect x="622.90" y="76.32" width="2.95" height="288.68"/>
<rect x="625.97" y="76.27" width="2.95" height="288.73"/>
<rect x="629.04" y="76.23" width="2.95" height="288.77"/>
<rect x="632.11" y="76.20" width="2.95" height="288.80"/>
<rect x="635.18" y="76.16" width="2.95" height="288.84"/>
<rect x="638.25" y="76.13" width="2.95" height="288.87"/>
<rect x="641.32" y="76.09" width="2.95" height="288.91"/>
<rect x="644.39" y="76.05" width="2.95" height="288.95"/>
<rect x="647.46" y="76.02" width="2.95" height="288.98"/>
<rect x="650.53" y="75.98" width="2.95" height="289.02"/>
<rect x="653.60" y="75.94" width="2.95" height="289.06"/>
<rect x="656.67" y="75.91" width="2.95" height="289.09"/>
<rect x="659.74" y="75.87" width="2.95" height="289.13"/>
<rect x="662.81" y="75.83" width="2.95" height="289.17"/>
<rect x="665.88" y="75.80" width="2.95" height="289.20"/>
<rect x="668.95" y="75.76" width="2.95" height="289.24"/>
<rect x="672.02" y="75.72" width="2.95" height="289.28"/>
<rect x="675.09" y="75.69" width="2.95" height="289.31"/>
<rect x="678.16" y="75.65" width="2.95" height="289.35"/>
<rect x="681.23" y="75.62" width="2.95" height="289.38"/>
</g>
<g fill="#3C5488">
<rect x="423.38" y="83.90" width="2.95" height="281.10"/>
<rect x="426.44" y="87.80" width="2.95" height="277.20"/>
<rect x="429.51" y="89.40" width="2.95" height="275.60"/>
<rect x="432.58" y="90.10" width="2.95" height="274.90"/>
<rect x="435.65" y="90.70" width="2.95" height="274.30"/>
<rect x="438.72" y="92.80" width="2.95" height="272.20"/>
<rect x="441.79" y="93.50" width="2.95" height="271.50"/>
<rect x="444.86" y="94.10" width="2.95" height="270.90"/>
<rect x="447.93" y="95.10" width="2.95" height="269.90"/>
<rect x="451.00" y="97.30" width="2.95" height="267.70"/>
<rect x="454.07" y="98.00" width="2.95" height="267.00"/>
<rect x="457.14" y="99.20" width="2.95" height="265.80"/>
<rect x="460.21" y="99.70" width="2.95" height="265.30"/>
<rect x="463.28" y="100.10" width="2.95" height="264.90"/>
<rect x="466.35" y="100.70" width="2.95" height="264.30"/>
<rect x="469.42" y="101.10" width="2.95" height="263.90"/>
<rect x="472.49" y="101.10" width="2.95" height="263.90"/>
<rect x="475.56" y="101.60" width="2.95" height="263.40"/>
<rect x="478.63" y="101.60" width="2.95" height="263.40"/>
<rect x="481.70" y="102.00" width="2.95" height="263.00"/>
<rect x="484.77" y="102.00" width="2.95" height="263.00"/>
<rect x="487.84" y="102.40" width="2.95" height="262.60"/>
<rect x="490.91" y="102.40" width="2.95" height="262.60"/>
<rect x="493.98" y="102.40" width="2.95" height="262.60"/>
<rect x="497.05" y="102.80" width="2.95" height="262.20"/>
<rect x="500.12" y="102.85" width="2.95" height="262.15"/>
<rect x="503.19" y="102.90" width="2.95" height="262.10"/>
<rect x="506.26" y="102.99" width="2.95" height="262.01"/>
<rect x="509.33" y="103.09" width="2.95" height="261.91"/>
<rect x="512.39" y="103.18" width="2.95" height="261.82"/>
<rect x="515.46" y="103.27" width="2.95" height="261.73"/>
<rect x="518.53" y="103.37" width="2.95" height="261.63"/>
<rect x="521.60" y="103.46" width="2.95" height="261.54"/>
<rect x="524.67" y="103.55" width="2.95" height="261.45"/>
<rect x="527.74" y="103.65" width="2.95" height="261.35"/>
<rect x="530.81" y="103.74" width="2.95" height="261.26"/>
<rect x="533.88" y="103.83" width="2.95" height="261.17"/>
<rect x="536.95" y="103.93" width="2.95" height="261.07"/>
<rect x="540.02" y="104.03" width="2.95" height="260.97"/>
<rect x="543.09" y="104.12" width="2.95" height="260.88"/>
<rect x="546.16" y="104.22" width="2.95" height="260.78"/>
<rect x="549.23" y="104.32" width="2.95" height="260.68"/>
<rect x="552.30" y="104.42" width="2.95" height="260.58"/>
<rect x="555.37" y="104.51" width="2.95" height="260.49"/>
<rect x="558.44" y="104.61" width="2.95" height="260.39"/>
<rect x="561.51" y="104.71" width="2.95" height="260.29"/>
<rect x="564.58" y="104.81" width="2.95" height="260.19"/>
<rect x="567.65" y="105.03" width="2.95" height="259.97"/>
<rect x="570.72" y="107.06" width="2.95" height="257.94"/>
<rect x="573.79" y="107.21" width="2.95" height="257.79"/>
<rect x="576.86" y="107.37" width="2.95" height="257.63"/>
<rect x="579.93" y="107.52" width="2.95" height="257.48"/>
<rect x="583.00" y="107.67" width="2.95" height="257.33"/>
<rect x="586.07" y="107.70" width="2.95" height="257.30"/>
<rect x="589.14" y="107.70" width="2.95" height="257.30"/>
<rect x="592.21" y="107.70" width="2.95" height="257.30"/>
<rect x="595.28" y="107.70" width="2.95" height="257.30"/>
<rect x="598.34" y="107.70" width="2.95" height="257.30"/>
<rect x="601.41" y="107.81" width="2.95" height="257.19"/>
<rect x="604.48" y="107.92" width="2.95" height="257.08"/>
<rect x="607.55" y="108.04" width="2.95" height="256.96"/>
<rect x="610.62" y="108.15" width="2.95" height="256.85"/>
<rect x="613.69" y="108.27" width="2.95" height="256.73"/>
<rect x="616.76" y="110.23" width="2.95" height="254.77"/>
<rect x="619.83" y="110.34" width="2.95" height="254.66"/>
<rect x="622.90" y="110.45" width="2.95" height="254.55"/>
<rect x="625.97" y="110.57" width="2.95" height="254.43"/>
<rect x="629.04" y="110.68" width="2.95" height="254.32"/>
<rect x="632.11" y="110.79" width="2.95" height="254.21"/>
<rect x="635.18" y="110.91" width="2.95" height="254.09"/>
<rect x="638.25" y="111.02" width="2.95" height="253.98"/>
<rect x="641.32" y="111.13" width="2.95" height="253.87"/>
<rect x="644.39" y="111.25" width="2.95" height="253.75"/>
<rect x="647.46" y="111.36" width="2.95" height="253.64"/>
<rect x="650.53" y="111.51" width="2.95" height="253.49"/>
<rect x="653.60" y="111.69" width="2.95" height="253.31"/>
<rect x="656.67" y="111.86" width="2.95" height="253.14"/>
<rect x="659.74" y="112.03" width="2.95" height="252.97"/>
<rect x="662.81" y="112.21" width="2.95" height="252.79"/>
<rect x="665.88" y="112.38" width="2.95" height="252.62"/>
<rect x="668.95" y="112.55" width="2.95" height="252.45"/>
<rect x="672.02" y="112.73" width="2.95" height="252.27"/>
<rect x="675.09" y="112.89" width="2.95" height="252.11"/>
<rect x="678.16" y="113.06" width="2.95" height="251.94"/>
<rect x="681.23" y="113.23" width="2.95" height="251.77"/>
</g>
<path class="ax" d="M70.5 368.0V27.25H322.5V368.0Z"/>
<path d="M72.20 368.3V373.6M75.16 368.3V373.6M78.12 368.3V373.6M81.08 368.3V373.6M84.03 368.3V373.6M86.99 368.3V373.6M89.95 368.3V373.6M92.91 368.3V373.6M95.87 368.3V373.6M98.83 368.3V373.6M101.78 368.3V373.6M104.74 368.3V373.6M107.70 368.3V373.6M110.66 368.3V373.6M113.62 368.3V373.6M116.58 368.3V373.6M119.53 368.3V373.6M122.49 368.3V373.6M125.45 368.3V373.6M128.41 368.3V373.6M131.37 368.3V373.6M134.32 368.3V373.6M137.28 368.3V373.6M140.24 368.3V373.6M143.20 368.3V373.6M146.16 368.3V373.6M149.12 368.3V373.6M152.07 368.3V373.6M155.03 368.3V373.6M157.99 368.3V373.6M160.95 368.3V373.6M163.91 368.3V373.6M166.87 368.3V373.6M169.82 368.3V373.6M172.78 368.3V373.6M175.74 368.3V373.6M178.70 368.3V373.6M181.66 368.3V373.6M184.62 368.3V373.6M187.57 368.3V373.6M190.53 368.3V373.6M193.49 368.3V373.6M196.45 368.3V373.6M199.41 368.3V373.6M202.37 368.3V373.6M205.32 368.3V373.6M208.28 368.3V373.6M211.24 368.3V373.6M214.20 368.3V373.6M217.16 368.3V373.6M220.12 368.3V373.6M223.07 368.3V373.6M226.03 368.3V373.6M228.99 368.3V373.6M231.95 368.3V373.6M234.91 368.3V373.6M237.87 368.3V373.6M240.82 368.3V373.6M243.78 368.3V373.6M246.74 368.3V373.6M249.70 368.3V373.6M252.66 368.3V373.6M255.62 368.3V373.6M258.57 368.3V373.6M261.53 368.3V373.6M264.49 368.3V373.6M267.45 368.3V373.6M270.41 368.3V373.6M273.37 368.3V373.6M276.32 368.3V373.6M279.28 368.3V373.6M282.24 368.3V373.6M285.20 368.3V373.6M288.16 368.3V373.6M291.12 368.3V373.6M294.07 368.3V373.6M297.03 368.3V373.6M299.99 368.3V373.6M302.95 368.3V373.6M305.91 368.3V373.6M308.87 368.3V373.6M311.82 368.3V373.6M314.78 368.3V373.6M317.74 368.3V373.6M320.70 368.3V373.6" stroke="#1a1a1a" stroke-width="0.95" fill="none"/>
<path d="M211.5 27.5V367" stroke="#111" stroke-width="1" stroke-dasharray="1.9 1.27" fill="none"/>
<path class="ax" d="M423.5 368.0V27.25H684.5V368.0Z"/>
<path d="M424.85 368.3V373.6M427.92 368.3V373.6M430.99 368.3V373.6M434.06 368.3V373.6M437.13 368.3V373.6M440.20 368.3V373.6M443.27 368.3V373.6M446.34 368.3V373.6M449.41 368.3V373.6M452.48 368.3V373.6M455.55 368.3V373.6M458.62 368.3V373.6M461.69 368.3V373.6M464.76 368.3V373.6M467.83 368.3V373.6M470.89 368.3V373.6M473.96 368.3V373.6M477.03 368.3V373.6M480.10 368.3V373.6M483.17 368.3V373.6M486.24 368.3V373.6M489.31 368.3V373.6M492.38 368.3V373.6M495.45 368.3V373.6M498.52 368.3V373.6M501.59 368.3V373.6M504.66 368.3V373.6M507.73 368.3V373.6M510.80 368.3V373.6M513.87 368.3V373.6M516.94 368.3V373.6M520.01 368.3V373.6M523.08 368.3V373.6M526.15 368.3V373.6M529.22 368.3V373.6M532.29 368.3V373.6M535.36 368.3V373.6M538.43 368.3V373.6M541.50 368.3V373.6M544.57 368.3V373.6M547.64 368.3V373.6M550.71 368.3V373.6M553.78 368.3V373.6M556.84 368.3V373.6M559.91 368.3V373.6M562.98 368.3V373.6M566.05 368.3V373.6M569.12 368.3V373.6M572.19 368.3V373.6M575.26 368.3V373.6M578.33 368.3V373.6M581.40 368.3V373.6M584.47 368.3V373.6M587.54 368.3V373.6M590.61 368.3V373.6M593.68 368.3V373.6M596.75 368.3V373.6M599.82 368.3V373.6M602.89 368.3V373.6M605.96 368.3V373.6M609.03 368.3V373.6M612.10 368.3V373.6M615.17 368.3V373.6M618.24 368.3V373.6M621.31 368.3V373.6M624.38 368.3V373.6M627.45 368.3V373.6M630.52 368.3V373.6M633.59 368.3V373.6M636.66 368.3V373.6M639.73 368.3V373.6M642.79 368.3V373.6M645.86 368.3V373.6M648.93 368.3V373.6M652.00 368.3V373.6M655.07 368.3V373.6M658.14 368.3V373.6M661.21 368.3V373.6M664.28 368.3V373.6M667.35 368.3V373.6M670.42 368.3V373.6M673.49 368.3V373.6M676.56 368.3V373.6M679.63 368.3V373.6M682.70 368.3V373.6" stroke="#1a1a1a" stroke-width="0.95" fill="none"/>
<path d="M569.5 27.5V367" stroke="#111" stroke-width="1" stroke-dasharray="1.9 1.27" fill="none"/>
<path class="ax" d="M65.0 43.5H70.5M65.0 150.5H70.5M65.0 258H70.5M65.0 365.5H70.5"/>
<text x="33.2" y="49.5" font-size="15.8" textLength="24.3" lengthAdjust="spacingAndGlyphs" text-anchor="start">150</text>
<text x="31.4" y="156.5" font-size="15.8" textLength="26.1" lengthAdjust="spacingAndGlyphs" text-anchor="start">100</text>
<text x="39.5" y="264.0" font-size="15.8" textLength="18.0" lengthAdjust="spacingAndGlyphs" text-anchor="start">50</text>
<text x="48.7" y="371.5" font-size="15.8" textLength="8.8" lengthAdjust="spacingAndGlyphs" text-anchor="start">0</text>
<path class="ax" d="M418.0 104.5H423.5M418.0 191.5H423.5M418.0 278.5H423.5M418.0 365.5H423.5"/>
<text x="391.8" y="110.6" font-size="15.4" textLength="18.4" lengthAdjust="spacingAndGlyphs" text-anchor="start">60</text>
<text x="391.6" y="197.6" font-size="15.4" textLength="18.6" lengthAdjust="spacingAndGlyphs" text-anchor="start">40</text>
<text x="392.0" y="284.6" font-size="15.4" textLength="18.2" lengthAdjust="spacingAndGlyphs" text-anchor="start">20</text>
<text x="401.6" y="371.6" font-size="15.4" textLength="8.6" lengthAdjust="spacingAndGlyphs" text-anchor="start">0</text>
<text x="117.9" y="46.9" font-size="15.2" textLength="60.6" lengthAdjust="spacingAndGlyphs" text-anchor="start">Non-AFR</text>
<text x="224.8" y="46.9" font-size="15.2" textLength="27.2" lengthAdjust="spacingAndGlyphs" text-anchor="start">AFR</text>
<text x="250.5" y="79.8" font-size="15.2" textLength="56.6" lengthAdjust="spacingAndGlyphs" text-anchor="start">26.8 Mb</text>
<text x="250.3" y="126.5" font-size="15.2" textLength="54.2" lengthAdjust="spacingAndGlyphs" text-anchor="start">14.9 Mb</text>
<text x="250.6" y="163.1" font-size="15.2" textLength="54.2" lengthAdjust="spacingAndGlyphs" text-anchor="start">18.6 Mb</text>
<text x="250.9" y="206.4" font-size="15.2" textLength="55.4" lengthAdjust="spacingAndGlyphs" text-anchor="start">89.7 Mb</text>
<text x="475.8" y="46.8" font-size="15.2" textLength="60.0" lengthAdjust="spacingAndGlyphs" text-anchor="start">Non-AFR</text>
<text x="583.6" y="46.8" font-size="15.2" textLength="27.0" lengthAdjust="spacingAndGlyphs" text-anchor="start">AFR</text>
<text x="624.1" y="44.5" font-size="15.2" textLength="48.0" lengthAdjust="spacingAndGlyphs" text-anchor="start">3.3 Mb</text>
<text x="624.1" y="70.9" font-size="15.2" textLength="44.8" lengthAdjust="spacingAndGlyphs" text-anchor="start">4.1 Mb</text>
<text x="624.1" y="102.4" font-size="15.2" textLength="46.0" lengthAdjust="spacingAndGlyphs" text-anchor="start">8.7 Mb</text>
<text x="624.1" y="137.5" font-size="15.2" textLength="55.6" lengthAdjust="spacingAndGlyphs" text-anchor="start">57.8 Mb</text>
<text x="106.2" y="394.3" font-size="16.5" textLength="180.5" lengthAdjust="spacingAndGlyphs" text-anchor="start">Haplotype assemblies</text>
<text x="463.4" y="394.3" font-size="16.5" textLength="181.2" lengthAdjust="spacingAndGlyphs" text-anchor="start">Haplotype assemblies</text>
<text transform="translate(13.0 324.8) rotate(-90)" font-size="17.5"><tspan x="0.0" textLength="35.5" lengthAdjust="spacingAndGlyphs">Sum</tspan> <tspan x="41.5" textLength="16.6" lengthAdjust="spacingAndGlyphs">of</tspan> <tspan x="64.3" textLength="36.1" lengthAdjust="spacingAndGlyphs">intra</tspan> <tspan x="106.7" textLength="19.2" lengthAdjust="spacingAndGlyphs">SD</tspan> <tspan x="134.6" textLength="64.4" lengthAdjust="spacingAndGlyphs">content</tspan> <tspan x="205.2" textLength="35.1" lengthAdjust="spacingAndGlyphs">(Mb)</tspan></text>
<text transform="translate(376.0 315.5) rotate(-90)" font-size="17.5"><tspan x="0.0" textLength="35.3" lengthAdjust="spacingAndGlyphs">Sum</tspan> <tspan x="41.0" textLength="16.6" lengthAdjust="spacingAndGlyphs">of</tspan> <tspan x="63.8" textLength="36.8" lengthAdjust="spacingAndGlyphs">inter</tspan> <tspan x="106.3" textLength="20.7" lengthAdjust="spacingAndGlyphs">SD</tspan> <tspan x="136.0" textLength="62.7" lengthAdjust="spacingAndGlyphs">content</tspan><tspan x="199.8" textLength="36.2" lengthAdjust="spacingAndGlyphs">(Mb)</tspan></text>
</svg></body></html>
